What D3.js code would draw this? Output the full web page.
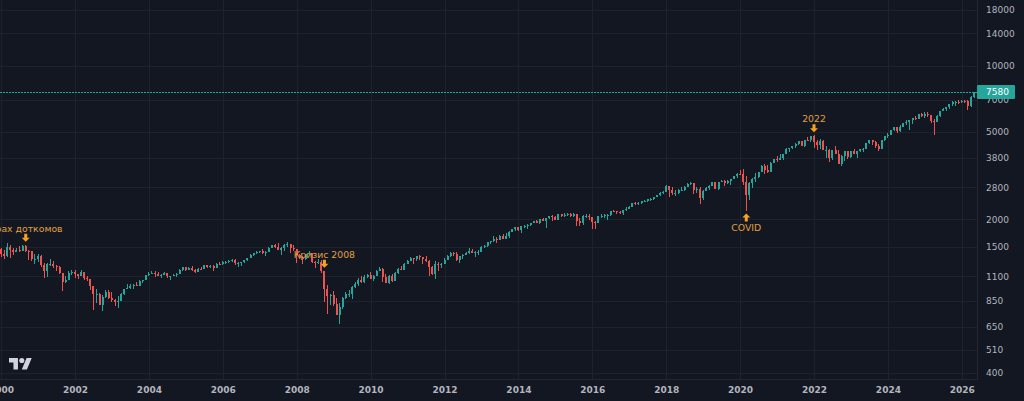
<!DOCTYPE html>
<html><head><meta charset="utf-8">
<script src="https://cdn.jsdelivr.net/npm/d3@7"></script>
<style>html,body{margin:0;padding:0;background:#131722;overflow:hidden}svg{display:block}</style>
</head><body><svg id="c" width="1024" height="401"></svg>
<script>
// First bar: Nov 1999 (month index relative to Jan 2000 = -2), monthly bars
const firstBarIndex = -2;
const opens = [
1363,1389,
1469,1394,1366,1499,1452,1421,1455,1431,1518,1437,1429,1315,
1320,1366,1240,1160,1249,1256,1224,1211,1134,1041,1060,1139,
1148,1130,1107,1147,1077,1067,990,912,916,815,886,936,
880,856,841,848,917,964,975,990,1008,996,1051,1058,
1112,1131,1145,1126,1107,1121,1141,1102,1104,1115,1130,1174,
1212,1181,1204,1181,1157,1192,1191,1234,1220,1229,1207,1249,
1248,1280,1281,1295,1311,1270,1270,1277,1304,1336,1378,1401,
1418,1438,1407,1421,1482,1531,1503,1455,1474,1527,1549,1481,
1468,1379,1331,1323,1386,1400,1280,1267,1283,1166,969,896,
903,826,735,798,873,919,919,987,1021,1057,1036,1096,
1115,1074,1104,1169,1187,1089,1031,1102,1049,1141,1183,1181,
1258,1286,1327,1326,1364,1345,1321,1292,1219,1131,1253,1247,
1258,1312,1366,1408,1398,1310,1362,1379,1407,1441,1412,1416,
1426,1498,1515,1569,1598,1631,1606,1686,1633,1682,1757,1806,
1848,1783,1859,1872,1884,1924,1960,1931,2003,1972,2018,2068,
2059,1995,2105,2068,2086,2107,2063,2104,1972,1920,2079,2080,
2044,1940,1932,2060,2065,2097,2099,2174,2171,2168,2126,2199,
2239,2279,2364,2363,2384,2412,2423,2470,2472,2519,2575,2648,
2674,2824,2714,2641,2648,2705,2718,2816,2902,2914,2712,2760,
2507,2704,2784,2834,2946,2752,2942,2980,2926,2977,3038,3141,
3231,3226,2954,2585,2912,3044,3100,3271,3500,3363,3270,3622,
3756,3714,3811,3973,4181,4204,4298,4395,4523,4308,4605,4567,
4766,4516,4374,4530,4132,4132,3785,4130,3955,3586,3872,4080,
3840,4077,3970,4109,4169,4180,4450,4589,4508,4288,4194,4568,
4770,4846,5096,5254,5036,5278,5460,5522,5648,5762,5705,6032,
5882,6041,5955,5612,5569,5912,6205,6339,6460,6688,6840,6849,
6845,6940,6880,6530,7210];
const highs = [
1427,1473,
1478,1444,1553,1528,1481,1475,1518,1525,1531,1450,1439,1389,
1384,1377,1264,1269,1316,1287,1239,1226,1135,1110,1163,1173,
1176,1131,1173,1147,1107,1070,994,966,925,904,951,954,
935,865,895,924,965,1015,1015,1011,1040,1054,1063,1112,
1155,1159,1163,1151,1128,1146,1141,1109,1131,1142,1188,1217,
1212,1212,1229,1192,1200,1220,1245,1245,1243,1234,1271,1276,
1295,1297,1310,1319,1326,1284,1280,1306,1340,1389,1407,1432,
1441,1461,1439,1499,1533,1541,1556,1504,1538,1576,1552,1523,
1471,1396,1359,1396,1440,1405,1292,1314,1304,1167,1007,919,
944,876,832,888,930,956,997,1040,1081,1102,1113,1130,
1151,1113,1181,1220,1200,1131,1120,1130,1150,1196,1227,1263,
1303,1345,1333,1367,1371,1346,1357,1308,1230,1293,1277,1269,
1334,1378,1420,1422,1415,1364,1392,1427,1475,1470,1435,1448,
1510,1530,1570,1598,1688,1654,1698,1709,1730,1776,1814,1849,
1850,1868,1884,1897,1925,1969,1991,2005,2019,2019,2076,2094,
2072,2120,2118,2126,2135,2130,2133,2113,2021,2094,2117,2105,
2044,1963,2073,2111,2104,2121,2178,2194,2188,2175,2214,2278,
2301,2371,2401,2399,2419,2454,2484,2491,2520,2582,2658,2694,
2873,2835,2801,2717,2742,2791,2848,2917,2941,2940,2815,2800,
2708,2813,2860,2950,2954,2965,3028,3014,3022,3050,3154,3248,
3338,3394,3136,2954,3068,3233,3280,3514,3588,3550,3646,3760,
3870,3951,3983,4219,4238,4302,4429,4538,4546,4608,4744,4808,
4819,4595,4637,4593,4307,4177,4140,4325,4120,3905,4080,4101,
4095,4195,4111,4171,4232,4458,4607,4590,4541,4393,4587,4793,
4932,5111,5265,5264,5342,5506,5670,5652,5768,5878,6044,6100,
6129,6147,5986,5696,5970,6216,6428,6481,6700,6920,6920,6945,
7000,7000,6950,7250,7620];
const lows = [
1347,1387,
1350,1325,1346,1339,1370,1419,1416,1431,1419,1305,1294,1254,
1275,1215,1081,1091,1232,1203,1165,1124,945,1026,1054,1114,
1081,1075,1107,1063,1048,952,776,834,815,768,873,872,
841,807,789,847,902,963,962,960,990,996,1031,1058,
1105,1124,1088,1106,1077,1113,1079,1060,1102,1090,1128,1163,
1163,1172,1163,1137,1147,1185,1184,1201,1206,1169,1201,1245,
1245,1253,1268,1281,1245,1219,1224,1261,1290,1327,1360,1385,
1403,1390,1364,1416,1476,1485,1454,1371,1439,1489,1407,1435,
1270,1317,1257,1312,1373,1272,1200,1248,1134,840,741,815,
805,735,667,784,866,889,869,979,992,1030,1029,1085,
1071,1045,1102,1169,1040,1029,1011,1040,1048,1132,1173,1181,
1257,1286,1249,1294,1311,1259,1282,1101,1114,1075,1159,1202,
1258,1312,1341,1358,1292,1267,1325,1378,1397,1403,1344,1383,
1426,1485,1502,1537,1581,1560,1605,1627,1633,1646,1747,1768,
1770,1737,1835,1815,1863,1915,1930,1905,1965,1821,2002,1973,
1988,1981,2040,2048,2068,2056,2044,1867,1872,1894,2020,1993,
1812,1810,1931,2034,2025,1992,2075,2148,2120,2114,2084,2188,
2239,2271,2322,2329,2353,2406,2407,2417,2447,2519,2557,2605,
2674,2533,2585,2553,2595,2691,2699,2795,2864,2603,2631,2346,
2444,2682,2722,2834,2750,2729,2942,2822,2892,2855,3038,3070,
3214,2855,2192,2447,2767,2966,3074,3271,3210,3234,3270,3594,
3663,3714,3723,3956,4057,4165,4234,4368,4306,4279,4560,4495,
4223,4115,4157,4125,3811,3637,3721,3955,3585,3492,3699,3765,
3795,3943,3809,4049,4048,4167,4385,4335,4238,4104,4194,4546,
4683,4846,5056,4954,5012,5234,5390,5120,5402,5675,5697,5832,
5773,5837,5489,4835,5569,5861,6202,6212,6360,6551,6521,6720,
6790,6780,6280,6500,7150];
const closes = [
1389,1469,
1394,1366,1499,1452,1421,1455,1431,1518,1437,1429,1315,1320,
1366,1240,1160,1249,1256,1224,1211,1134,1041,1060,1139,1148,
1130,1107,1147,1077,1067,990,912,916,815,886,936,880,
856,841,848,917,964,975,990,1008,996,1051,1058,1112,
1131,1145,1126,1107,1121,1141,1102,1104,1115,1130,1174,1212,
1181,1204,1181,1157,1192,1191,1234,1220,1229,1207,1249,1248,
1280,1281,1295,1311,1270,1270,1277,1304,1336,1378,1401,1418,
1438,1407,1421,1482,1531,1503,1455,1474,1527,1549,1481,1468,
1379,1331,1323,1386,1400,1280,1267,1283,1166,969,896,903,
826,735,798,873,919,919,987,1021,1057,1036,1096,1115,
1074,1104,1169,1187,1089,1031,1102,1049,1141,1183,1181,1258,
1286,1327,1326,1364,1345,1321,1292,1219,1131,1253,1247,1258,
1312,1366,1408,1398,1310,1362,1379,1407,1441,1412,1416,1426,
1498,1515,1569,1598,1631,1606,1686,1633,1682,1757,1806,1848,
1783,1859,1872,1884,1924,1960,1931,2003,1972,2018,2068,2059,
1995,2105,2068,2086,2107,2063,2104,1972,1920,2079,2080,2044,
1940,1932,2060,2065,2097,2099,2174,2171,2168,2126,2199,2239,
2279,2364,2363,2384,2412,2423,2470,2472,2519,2575,2648,2674,
2824,2714,2641,2648,2705,2718,2816,2902,2914,2712,2760,2507,
2704,2784,2834,2946,2752,2942,2980,2926,2977,3038,3141,3231,
3226,2954,2585,2912,3044,3100,3271,3500,3363,3270,3622,3756,
3714,3811,3973,4181,4204,4298,4395,4523,4308,4605,4567,4766,
4516,4374,4530,4132,4132,3785,4130,3955,3586,3872,4080,3840,
4077,3970,4109,4169,4180,4450,4589,4508,4288,4194,4568,4770,
4846,5096,5254,5036,5278,5460,5522,5648,5762,5705,6032,5882,
6041,5955,5612,5569,5912,6205,6339,6460,6688,6840,6849,6845,
6940,6880,6530,7210,7580];

const yTicks = [400,510,650,850,1100,1500,2000,2800,3800,5000,7000,10000,14000,18000];
const xTickYears = [2000,2002,2004,2006,2008,2010,2012,2014,2016,2018,2020,2022,2024,2026];
const lastPrice = 7580;
const annotations = [
  {label:"Крах доткомов", year:2000, month:8, dir:"down"},
  {label:"Кризис 2008", year:2008, month:9, dir:"down"},
  {label:"COVID", year:2020, month:2, dir:"up"},
  {label:"2022", year:2022, month:0, dir:"down"}
];

const W = 1024, H = 401, plotR = 977, plotB = 379;
const UP = "#26a69a", DOWN = "#ef5350";
const bars = closes.map((c,i)=>({i:firstBarIndex+i, o:opens[i], h:highs[i], l:lows[i], c}));
const monthIdx = (y,m)=>(y-2000)*12+m;

const x = d3.scaleLinear().domain([0, monthIdx(2026,0)]).range([1.1, 961.8]);
const y = d3.scaleLog().domain([400,18000]).range([373, 9.5]);

const svg = d3.select("#c");
svg.append("rect").attr("width",W).attr("height",H).attr("fill","#131722");
svg.append("defs").append("clipPath").attr("id","clip")
  .append("rect").attr("x",0).attr("y",0).attr("width",plotR).attr("height",plotB);

// grid
const grid = svg.append("g").attr("clip-path","url(#clip)");
grid.selectAll("line.h").data(yTicks).join("line")
  .attr("x1",0).attr("x2",plotR)
  .attr("y1",d=>Math.round(y(d))+0.5).attr("y2",d=>Math.round(y(d))+0.5)
  .attr("stroke","#1e222d").attr("stroke-width",1);
grid.selectAll("line.v").data(xTickYears).join("line")
  .attr("y1",0).attr("y2",plotB)
  .attr("x1",d=>Math.round(x(monthIdx(d,0)))+0.5).attr("x2",d=>Math.round(x(monthIdx(d,0)))+0.5)
  .attr("stroke","#1e222d").attr("stroke-width",1);

// borders
svg.append("line").attr("x1",0).attr("x2",plotR).attr("y1",plotB+0.5).attr("y2",plotB+0.5).attr("stroke","#232733");
svg.append("line").attr("x1",plotR+0.5).attr("x2",plotR+0.5).attr("y1",0).attr("y2",plotB+1).attr("stroke","#232733");

// last price line
svg.append("line").attr("clip-path","url(#clip)")
  .attr("x1",0).attr("x2",plotR)
  .attr("y1",Math.round(y(lastPrice))+0.5).attr("y2",Math.round(y(lastPrice))+0.5)
  .attr("stroke",UP).attr("stroke-width",1).attr("stroke-dasharray","2,1");

// candles
const cg = svg.append("g").attr("clip-path","url(#clip)");
const candle = cg.selectAll("g").data(bars).join("g")
  .attr("fill",d=>d.c>=d.o?UP:DOWN);
candle.append("rect")
  .attr("x",d=>Math.round(x(d.i)-0.5))
  .attr("width",1)
  .attr("y",d=>Math.round(y(d.h)))
  .attr("height",d=>Math.max(1,Math.round(y(d.l))-Math.round(y(d.h))));
candle.append("rect")
  .attr("x",d=>Math.round(x(d.i)-1))
  .attr("width",2)
  .attr("y",d=>Math.round(y(Math.max(d.o,d.c))))
  .attr("height",d=>Math.max(1,Math.round(y(Math.min(d.o,d.c)))-Math.round(y(Math.max(d.o,d.c)))));

// annotations
const ag = svg.append("g").attr("clip-path","url(#clip)");
annotations.forEach(a=>{
  const b = bars.find(d=>d.i===monthIdx(a.year,a.month));
  const cx = x(b.i);
  if(a.dir==="down"){
    const tip = y(b.h)-3;
    ag.append("path").attr("fill","#f7a21b")
      .attr("d",`M${cx-1.5},${tip-8}h3v4h2.5l-4,4l-4,-4h2.5z`);
    ag.append("text").attr("x",cx).attr("y",tip-13.5).attr("dy","0.35em")
      .attr("text-anchor","middle").attr("fill","#e0a040")
      .attr("font-family","DejaVu Sans").attr("font-size",9.3).text(a.label);
  } else {
    const tip = y(b.l)+3;
    ag.append("path").attr("fill","#f7a21b")
      .attr("d",`M${cx},${tip}l4,4h-2.5v4h-3v-4h-2.5z`);
    ag.append("text").attr("x",cx).attr("y",tip+14.4).attr("dy","0.35em")
      .attr("text-anchor","middle").attr("fill","#e0a040")
      .attr("font-family","DejaVu Sans").attr("font-size",9.3).text(a.label);
  }
});

// y axis labels
const yAxis = d3.axisRight(y).tickValues(yTicks).tickFormat(d=>String(d)).tickSize(0).tickPadding(0);
const yg = svg.append("g").attr("transform",`translate(986,0)`).call(yAxis);
yg.select(".domain").remove();
yg.selectAll("text").attr("fill","#b2b5be").attr("font-family","DejaVu Sans").attr("font-size",9).attr("x",0);

// price label
const py = y(lastPrice);
svg.append("rect").attr("x",977).attr("y",Math.round(py)-7).attr("width",38).attr("height",14).attr("rx",1).attr("fill",UP);
svg.append("text").attr("x",986).attr("y",py).attr("dy","0.35em").attr("fill","#ffffff")
  .attr("font-family","DejaVu Sans").attr("font-size",9).text(String(lastPrice));

// x axis labels
const xAxis = d3.axisBottom(x).tickValues(xTickYears.map(v=>monthIdx(v,0)))
  .tickFormat(d=>String(2000+d/12)).tickSize(0).tickPadding(0);
const xg = svg.append("g").attr("transform","translate(0,390)").call(xAxis);
xg.select(".domain").remove();
xg.selectAll("text").attr("fill","#b2b5be").attr("font-family","DejaVu Sans").attr("font-weight","bold")
  .attr("font-size",9).attr("dy","0.35em").attr("y",0);

// logo
const logo = svg.append("g").attr("transform","translate(9,355.4) scale(0.64)").attr("fill","#d1d4dc");
logo.append("path").attr("d","M14 22H7V11H0V4h14v18zM28 22h-8l7.5-18h8L28 22z");
logo.append("circle").attr("cx",20).attr("cy",8).attr("r",4);
</script></body></html>
